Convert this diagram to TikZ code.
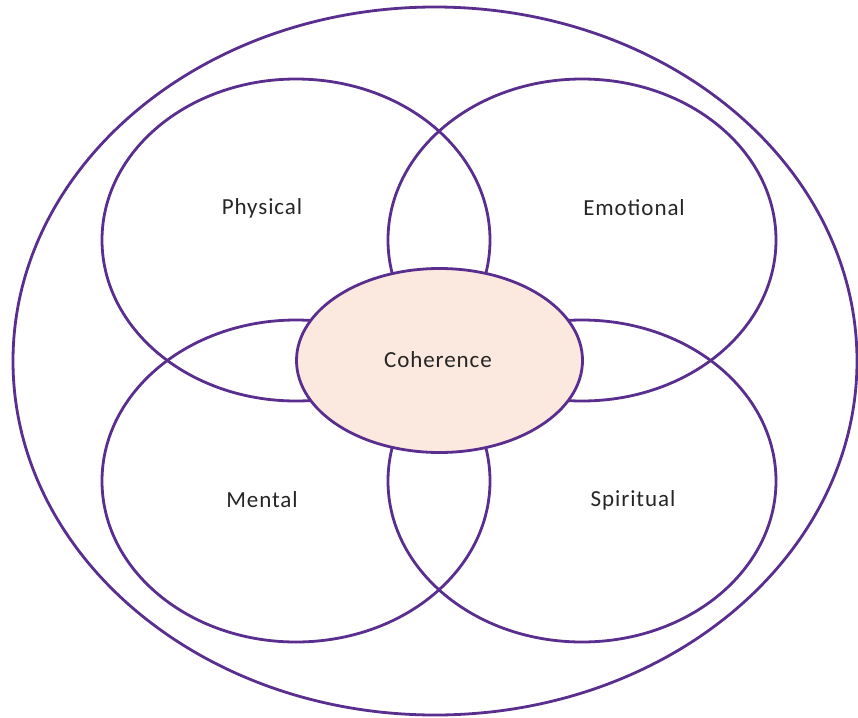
\documentclass[tikz,border=0pt]{standalone}
\usepackage{fontspec}
\setmainfont{Carlito}[LetterSpace=4]
\definecolor{ringpurple}{HTML}{5A2E8F}
\definecolor{corefill}{HTML}{FBE8DE}
\definecolor{labelgray}{HTML}{262626}
\begin{document}
\begin{tikzpicture}[x=1pt,y=-1pt,
  ring/.style={draw=ringpurple,line width=2.8pt},
  lbl/.style={font=\fontsize{23}{26}\selectfont,text=labelgray,inner sep=0pt}]
\useasboundingbox (0,0) rectangle (858,717);
\fill[white] (0,0) rectangle (858,717);
\draw[ring] (435,361) ellipse [x radius=422, y radius=354];
\draw[ring] (296,240) ellipse [x radius=194, y radius=161];
\draw[ring] (582,240) ellipse [x radius=194, y radius=161];
\draw[ring] (296,481) ellipse [x radius=194, y radius=161];
\draw[ring] (582,481) ellipse [x radius=194, y radius=161];
\draw[ring,fill=corefill] (439.5,360.5) ellipse [x radius=143, y radius=92];
\node[lbl] (phys) at (262,208) {Physical};
\node[lbl] (emo) at (634,208) {Emotional};
\node[lbl] (coh) at (438,360) {Coherence};
\node[lbl] (ment) at (262,500) {Mental};
\node[lbl] (spir) at (633,500) {Spiritual};
\end{tikzpicture}
\end{document}
